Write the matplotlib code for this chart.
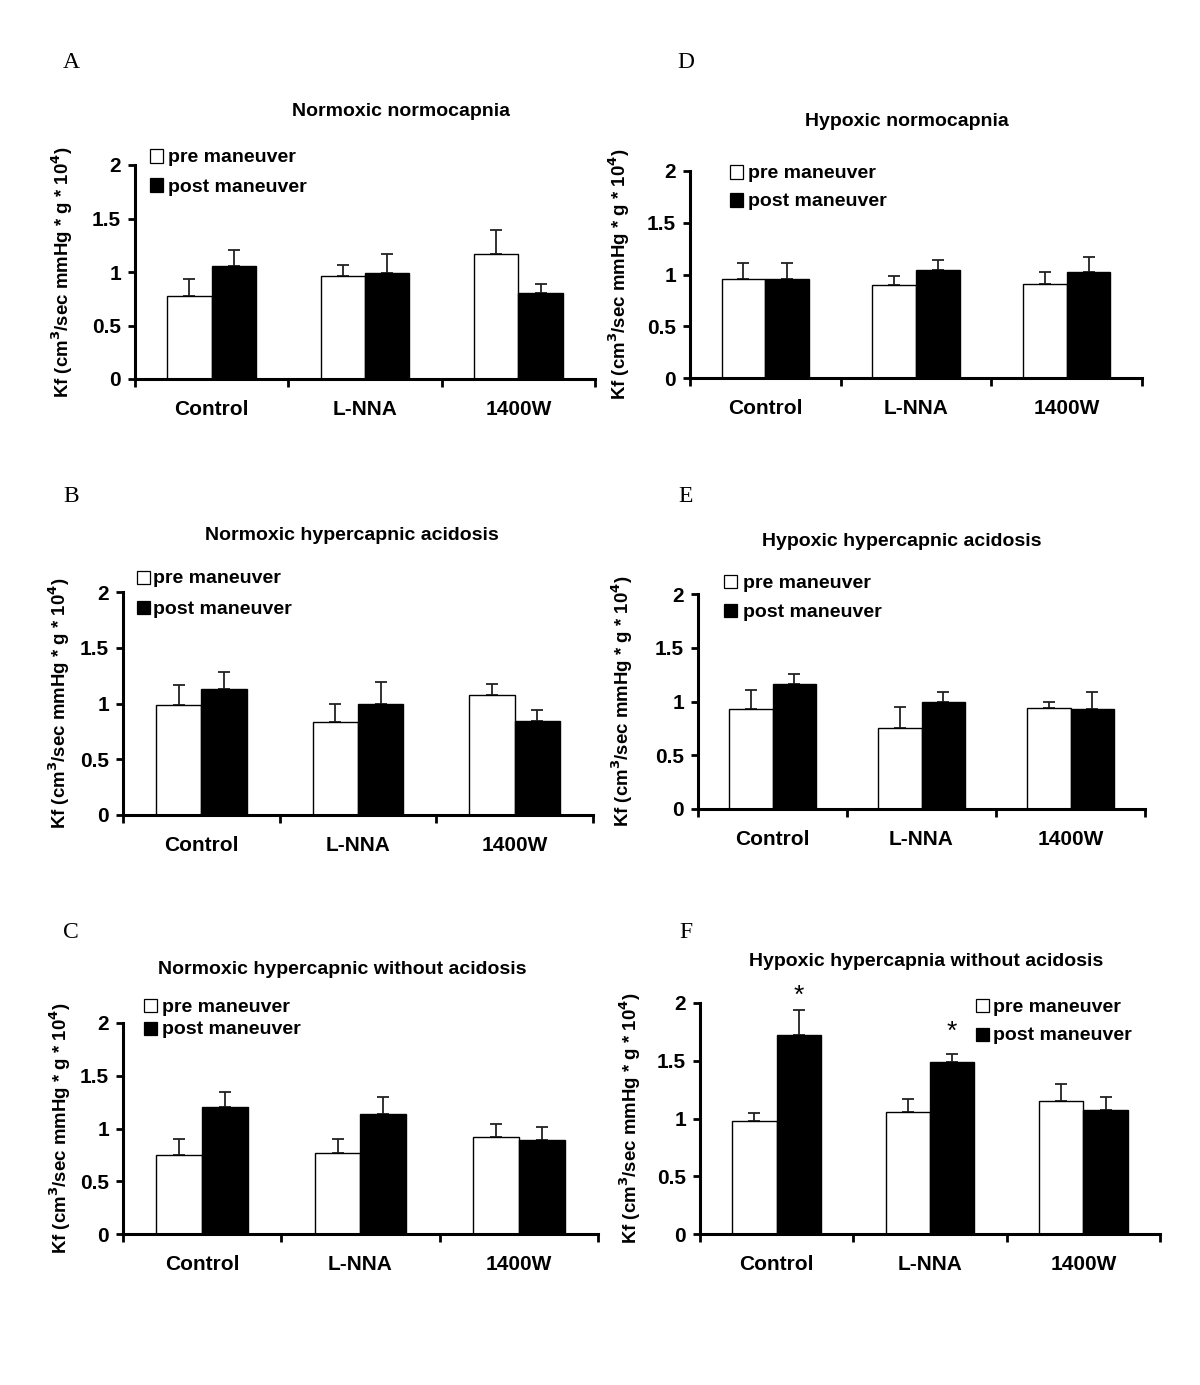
import matplotlib
matplotlib.use("Agg")
import matplotlib.pyplot as plt
from matplotlib.patches import Rectangle
from matplotlib.ticker import FixedLocator
import numpy as np

plt.rcParams['font.family'] = ['Liberation Sans', 'DejaVu Sans']

categories = ["Control", "L-NNA", "1400W"]
yticks = [0, 0.5, 1, 1.5, 2]
ytick_labels = ["0", "0.5", "1", "1.5", "2"]
series_labels = ["pre maneuver", "post maneuver"]

titles = {
    "A": "Normoxic normocapnia",
    "B": "Normoxic hypercapnic acidosis",
    "C": "Normoxic hypercapnic without acidosis",
    "D": "Hypoxic normocapnia",
    "E": "Hypoxic hypercapnic acidosis",
    "F": "Hypoxic hypercapnia without acidosis",
}

A_pre = [0.78, 0.96, 1.17]
A_pre_err = [0.15, 0.11, 0.22]
A_post = [1.06, 0.99, 0.80]
A_post_err = [0.15, 0.18, 0.09]

B_pre = [0.985, 0.83, 1.075]
B_pre_err = [0.18, 0.17, 0.10]
B_post = [1.13, 1.00, 0.845]
B_post_err = [0.15, 0.19, 0.095]

C_pre = [0.75, 0.77, 0.92]
C_pre_err = [0.15, 0.13, 0.125]
C_post = [1.20, 1.135, 0.89]
C_post_err = [0.145, 0.165, 0.12]

D_pre = [0.96, 0.895, 0.91]
D_pre_err = [0.15, 0.095, 0.11]
D_post = [0.96, 1.04, 1.02]
D_post_err = [0.15, 0.10, 0.15]

E_pre = [0.93, 0.75, 0.94]
E_pre_err = [0.175, 0.20, 0.06]
E_post = [1.16, 1.00, 0.93]
E_post_err = [0.10, 0.09, 0.16]

F_pre = [0.98, 1.056, 1.153]
F_pre_err = [0.07, 0.115, 0.15]
F_post = [1.726, 1.487, 1.07]
F_post_err = [0.21, 0.075, 0.12]

# significance marks (panel F, post maneuver bars)
F_sig = [True, True, False]
F_sig_offset = [2, 7]  # points above error bar

data = {
    "A": (A_pre, A_pre_err, A_post, A_post_err),
    "B": (B_pre, B_pre_err, B_post, B_post_err),
    "C": (C_pre, C_pre_err, C_post, C_post_err),
    "D": (D_pre, D_pre_err, D_post, D_post_err),
    "E": (E_pre, E_pre_err, E_post, E_post_err),
    "F": (F_pre, F_pre_err, F_post, F_post_err),
}

W, H = 1200, 1385
fig = plt.figure(figsize=(W / 100, H / 100), dpi=100)

# layout in pixels: x0, x1, y_zero, y_two
layout = {
    "A": (135, 595, 379, 165),
    "B": (123, 593, 815, 592),
    "C": (123, 598, 1234, 1023),
    "D": (690, 1142, 378, 171),
    "E": (698, 1145, 809, 594),
    "F": (700, 1160, 1234, 1003),
}
title_pos = {
    "A": (401, 112), "B": (352, 536), "C": (342, 970),
    "D": (907, 121), "E": (902, 541), "F": (926, 961),
}
letter_pos = {
    "A": (71, 63), "B": (71, 497), "C": (71, 933),
    "D": (686, 63), "E": (686, 497), "F": (686, 933),
}
ylabel_off = {"A": 60, "B": 51, "C": 50, "D": 58, "E": 63, "F": 57}
# legend: square left x, text left x, row centre y (pre), row centre y (post)
legend_pos = {
    "A": (150, 168, 156, 185),
    "B": (137, 153, 577, 607),
    "C": (144, 162, 1005, 1028),
    "D": (730, 748, 172, 200),
    "E": (724, 743, 581, 610),
    "F": (976, 993, 1005, 1034),
}

bw = 0.29
x = np.arange(len(categories))
sq = 13  # legend square size in px

for key, (x0, x1, y0, y2) in layout.items():
    ax = fig.add_axes([x0 / W, 1 - y0 / H, (x1 - x0) / W, (y0 - y2) / H])
    pre, pre_err, post, post_err = data[key]
    ax.bar(x - bw / 2, pre, bw, color="white", edgecolor="black", linewidth=1.0, zorder=2)
    ax.bar(x + bw / 2, post, bw, color="black", edgecolor="black", linewidth=1.0, zorder=2)
    ax.errorbar(x - bw / 2, pre, yerr=[np.zeros(3), pre_err], fmt="none",
                ecolor="#222222", elinewidth=1.3, capsize=4, capthick=1.3, zorder=1)
    ax.errorbar(x + bw / 2, post, yerr=[np.zeros(3), post_err], fmt="none",
                ecolor="#222222", elinewidth=1.3, capsize=4, capthick=1.3, zorder=1)

    ax.set_xlim(-0.5, 2.5)
    ax.set_ylim(0, 2)
    for s in ["top", "right"]:
        ax.spines[s].set_visible(False)
    for s in ["left", "bottom"]:
        ax.spines[s].set_linewidth(2.2)
    ax.set_yticks(yticks)
    ax.set_yticklabels(ytick_labels, fontsize=15, fontweight="bold")
    ax.tick_params(axis="y", direction="out", length=5, width=2, pad=5)
    ax.set_xticks(x)
    ax.set_xticklabels(categories, fontsize=15, fontweight="bold")
    ax.xaxis.set_minor_locator(FixedLocator([-0.5, 0.5, 1.5, 2.5]))
    ax.tick_params(axis="x", which="major", length=0, pad=15)
    ax.tick_params(axis="x", which="minor", direction="out", length=6, width=2)

    ax.set_ylabel(r"Kf (cm$^{\mathbf{3}}$/sec mmHg * g * 10$^{\mathbf{4}}$)",
                  fontsize=13.4, fontweight="bold")
    ax.yaxis.set_label_coords(-ylabel_off[key] / (x1 - x0), 0.5)

    sx, tx0, r1, r2 = legend_pos[key]
    for (ry, fc, lab) in [(r1, "white", series_labels[0]), (r2, "black", series_labels[1])]:
        fig.patches.append(Rectangle((sx / W, 1 - (ry + sq / 2) / H), sq / W, sq / H,
                                     transform=fig.transFigure, facecolor=fc,
                                     edgecolor="black", linewidth=0.9))
        fig.text(tx0 / W, 1 - ry / H, lab, ha="left", va="center_baseline",
                 fontsize=14, fontweight="bold")

    if key == "F":
        for i, sig in enumerate(F_sig):
            if sig:
                ax.annotate("*", xy=(x[i] + bw / 2, post[i] + post_err[i]),
                            xytext=(0, F_sig_offset[i]), textcoords="offset points",
                            ha="center", va="bottom", fontsize=19,
                            annotation_clip=False)

    tx, ty = title_pos[key]
    fig.text(tx / W, 1 - ty / H, titles[key], ha="center", va="center",
             fontsize=14, fontweight="bold")
    px, py = letter_pos[key]
    fig.text(px / W, 1 - py / H, key, ha="center", va="center",
             fontsize=17, family="Liberation Serif")

fig.savefig("out.png", dpi=100, facecolor="white")
